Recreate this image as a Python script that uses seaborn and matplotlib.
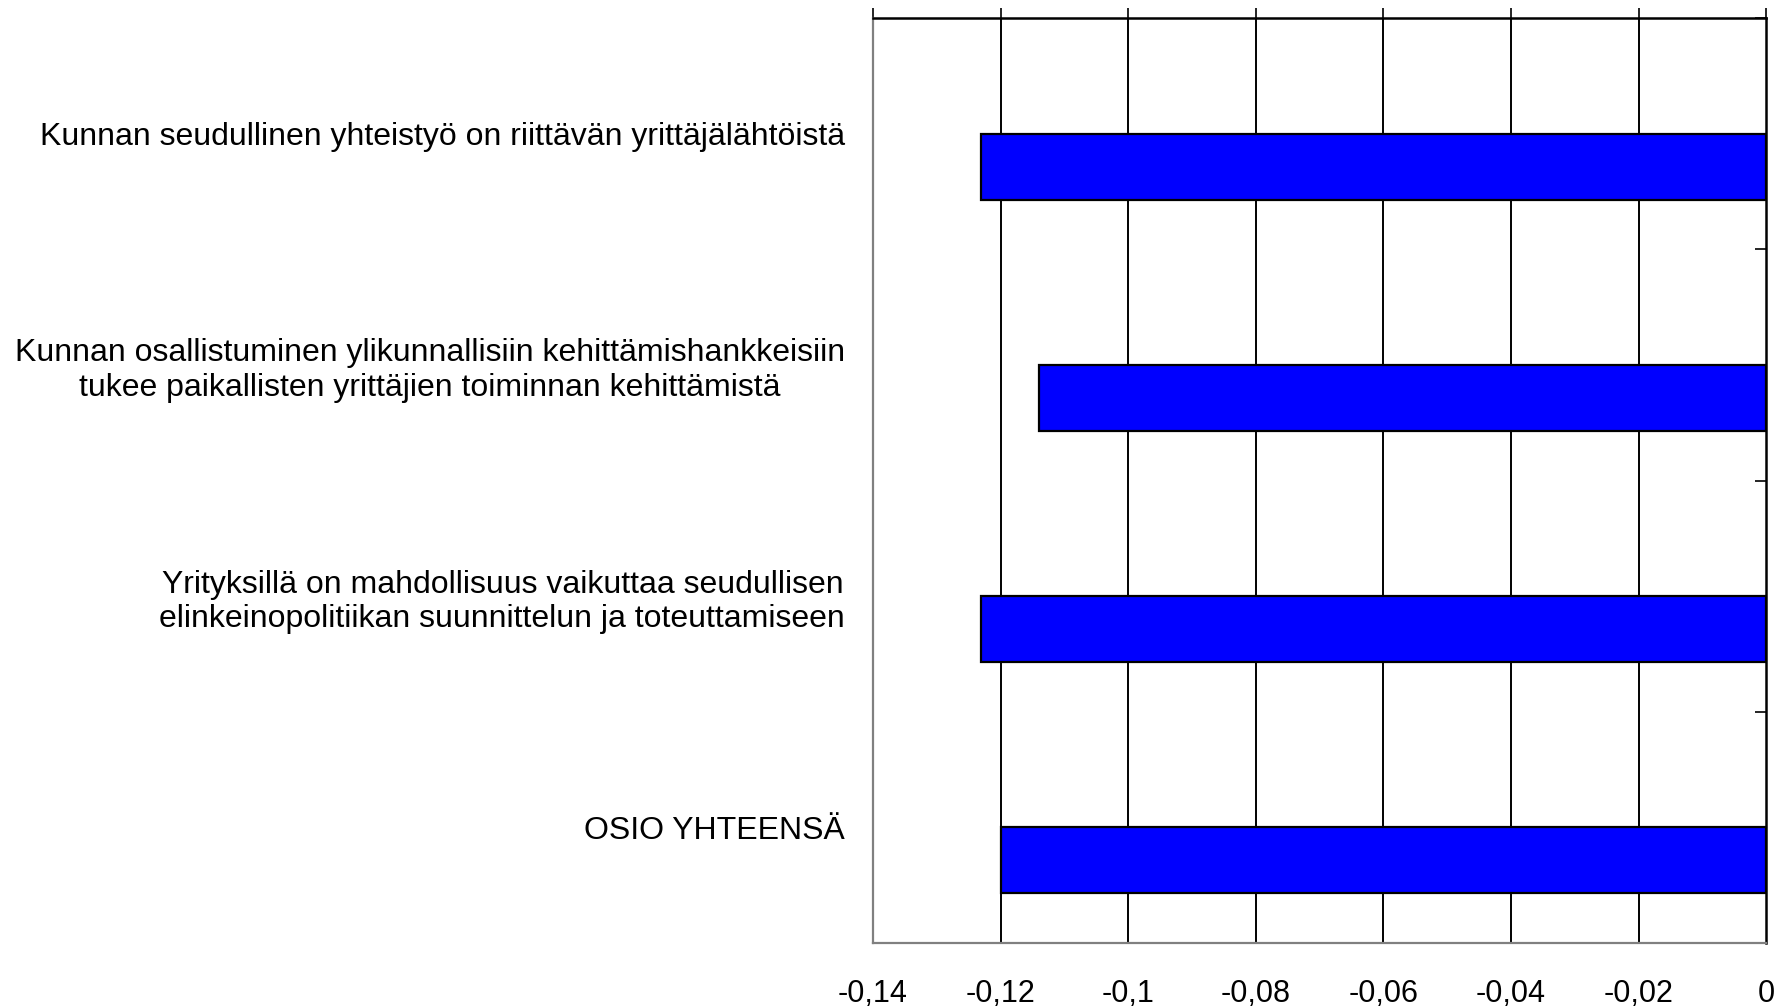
import matplotlib
matplotlib.use("Agg")
import matplotlib.pyplot as plt
import seaborn as sns
import pandas as pd
import numpy as np

categories = [
    "Kunnan seudullinen yhteistyö on riittävän yrittäjälähtöistä",
    "Kunnan osallistuminen ylikunnallisiin kehittämishankkeisiin\ntukee paikallisten yrittäjien toiminnan kehittämistä",
    "Yrityksillä on mahdollisuus vaikuttaa seudullisen\nelinkeinopolitiikan suunnittelun ja toteuttamiseen",
    "OSIO YHTEENSÄ",
]
series_names = ["tyhjä", "arvo"]
values_main = [-0.123, -0.114, -0.123, -0.120]
values_empty = [np.nan, np.nan, np.nan, np.nan]
x_ticks = [-0.14, -0.12, -0.10, -0.08, -0.06, -0.04, -0.02, 0.0]
x_tick_labels = ["-0,14", "-0,12", "-0,1", "-0,08", "-0,06", "-0,04", "-0,02", "0"]

df = pd.DataFrame({
    "kategoria": categories * 2,
    "arvo": values_empty + values_main,
    "sarja": [series_names[0]] * 4 + [series_names[1]] * 4,
})

sns.set_theme(style="white")
plt.rcParams["font.family"] = ["Liberation Sans", "DejaVu Sans"]
plt.rcParams["text.color"] = "black"
plt.rcParams["xtick.labelcolor"] = "black"
plt.rcParams["ytick.labelcolor"] = "black"

fig = plt.figure(figsize=(17.78, 10.06), dpi=100)
ax = fig.add_axes([0.491, 0.0626, 0.9933 - 0.491, 0.982 - 0.0626])

sns.barplot(data=df, y="kategoria", x="arvo", hue="sarja", hue_order=series_names,
            order=categories, orient="h", dodge=True, width=0.571, saturation=1,
            palette={"tyhjä": "#0000FF", "arvo": "#0000FF"},
            edgecolor="black", linewidth=1.6, legend=False, ax=ax, errorbar=None)

ax.set_xlim(-0.14, 0.0)
ax.set_ylim(3.5, -0.5)
ax.set_xlabel("")
ax.set_ylabel("")

# x ticks: marks on top axis, labels at bottom
ax.set_xticks(x_ticks)
ax.set_xticklabels(x_tick_labels, fontsize=22)
ax.tick_params(axis="x", bottom=False, top=True, labelbottom=True, labeltop=False,
               direction="out", length=7, width=1.2, color="black", pad=19)

# vertical gridlines
for xv in x_ticks[1:-1]:
    ax.axvline(xv, color="black", lw=1.4, zorder=0)

# y labels on left, boundary ticks on right
ax.set_yticks(range(len(categories)))
ax.set_yticklabels(categories, fontsize=23)
ax.tick_params(axis="y", left=False, right=False, labelleft=True, pad=14)
for t in ax.get_yticklabels():
    t.set_multialignment("center")
ax.set_yticks([-0.5, 0.5, 1.5, 2.5, 3.5], minor=True)
ax.tick_params(axis="y", which="minor", left=False, right=True, direction="in",
               length=8, width=1.2, color="black")

for side in ["left", "bottom"]:
    ax.spines[side].set_color("#808080")
    ax.spines[side].set_linewidth(1.6)
for side in ["top", "right"]:
    ax.spines[side].set_color("black")
    ax.spines[side].set_linewidth(1.8)
    ax.spines[side].set_visible(True)

fig.savefig("out.png", dpi=100, facecolor="white")
